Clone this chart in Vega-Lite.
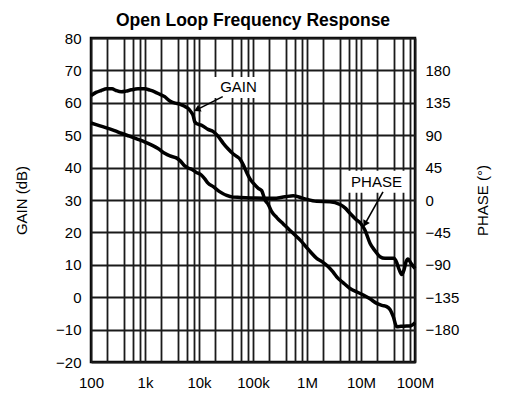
{
  "$schema": "https://vega.github.io/schema/vega-lite/v6.json",
  "autosize": "none",
  "padding": {"left": 91, "top": 38, "right": 90, "bottom": 38},
  "width": 324,
  "height": 324,
  "background": "white",
  "title": {"text": "Open Loop Frequency Response", "font": "Liberation Sans", "fontSize": 17.5, "fontWeight": "bold", "color": "black", "anchor": "middle", "offset": 2},
  "config": {
    "view": {"stroke": "black", "strokeWidth": 2.5},
    "axis": {"labelFont": "Liberation Sans", "labelFontSize": 15, "labelColor": "black", "titleFont": "Liberation Sans", "titleFontSize": 15, "titleFontWeight": "normal", "titleColor": "black", "ticks": false, "domain": false, "gridColor": "#1a1a1a", "gridWidth": 1.8, "gridOpacity": 1, "labelOverlap": false, "labelFlush": false}
  },
  "datasets": {
    "gain": [
      {"f": 100, "g": 62.2}, {"f": 124, "g": 63.2}, {"f": 155, "g": 63.8}, {"f": 195, "g": 64.3}, {"f": 245, "g": 64.3},
      {"f": 290, "g": 63.8}, {"f": 364, "g": 63.4}, {"f": 445, "g": 63.6}, {"f": 557, "g": 64.0}, {"f": 741, "g": 64.3},
      {"f": 987, "g": 64.3}, {"f": 1238, "g": 63.9}, {"f": 1512, "g": 63.4}, {"f": 1896, "g": 62.6}, {"f": 2317, "g": 61.9},
      {"f": 2667, "g": 61.0}, {"f": 3069, "g": 60.3}, {"f": 3671, "g": 59.9}, {"f": 4391, "g": 59.6}, {"f": 5275, "g": 59.0},
      {"f": 6256, "g": 58.3}, {"f": 7111, "g": 57.2}, {"f": 7743, "g": 56.2}, {"f": 8326, "g": 54.2}, {"f": 9183, "g": 53.5},
      {"f": 11030, "g": 53.1}, {"f": 14680, "g": 51.8}, {"f": 18400, "g": 51.1}, {"f": 22480, "g": 49.7}, {"f": 28180, "g": 47.5},
      {"f": 34430, "g": 45.8}, {"f": 43170, "g": 44.2}, {"f": 50540, "g": 43.4}, {"f": 57430, "g": 42.6}, {"f": 65270, "g": 41.0},
      {"f": 76430, "g": 38.5}, {"f": 87980, "g": 36.5}, {"f": 101300, "g": 35.2}, {"f": 125300, "g": 33.6}, {"f": 144900, "g": 32.9},
      {"f": 166800, "g": 30.0}, {"f": 192000, "g": 28.6}, {"f": 222000, "g": 26.4}, {"f": 278200, "g": 24.5}, {"f": 364000, "g": 22.6},
      {"f": 484500, "g": 20.6}, {"f": 625700, "g": 18.9}, {"f": 742000, "g": 17.7}, {"f": 987300, "g": 15.3}, {"f": 1186000, "g": 13.8},
      {"f": 1512000, "g": 12.0}, {"f": 1896000, "g": 11.0}, {"f": 2480000, "g": 9.4}, {"f": 3030000, "g": 7.8}, {"f": 3548000, "g": 6.3},
      {"f": 4642000, "g": 4.5}, {"f": 6257000, "g": 2.7}, {"f": 8433000, "g": 1.6}, {"f": 11030000, "g": 0.7}, {"f": 14680000, "g": -0.5},
      {"f": 19530000, "g": -1.9}, {"f": 24480000, "g": -2.5}, {"f": 29920000, "g": -2.9}, {"f": 34430000, "g": -3.8}, {"f": 39630000, "g": -6.0},
      {"f": 45830000, "g": -9.1}, {"f": 55060000, "g": -9.0}, {"f": 70200000, "g": -8.9}, {"f": 84330000, "g": -8.8}, {"f": 100000000, "g": -7.9}
    ],
    "phase": [
      {"f": 100, "p": 107}, {"f": 147, "p": 103}, {"f": 206, "p": 99.5}, {"f": 272, "p": 96.5}, {"f": 364, "p": 92.7},
      {"f": 516, "p": 88.6}, {"f": 741, "p": 84.2}, {"f": 1000, "p": 80.5}, {"f": 1308, "p": 76.5}, {"f": 1741, "p": 71.6},
      {"f": 2317, "p": 64.8}, {"f": 2904, "p": 61.2}, {"f": 3798, "p": 58.5}, {"f": 4544, "p": 54}, {"f": 5436, "p": 47.3},
      {"f": 6256, "p": 44.5}, {"f": 7200, "p": 42.8}, {"f": 8798, "p": 38.7}, {"f": 11030, "p": 34.7}, {"f": 12920, "p": 29},
      {"f": 14680, "p": 23.4}, {"f": 18400, "p": 18.5}, {"f": 24480, "p": 11.3}, {"f": 32590, "p": 6.3}, {"f": 42640, "p": 4},
      {"f": 57430, "p": 3.6}, {"f": 108900, "p": 2.7}, {"f": 237600, "p": 2.3}, {"f": 391400, "p": 4.5}, {"f": 557600, "p": 5.9},
      {"f": 854100, "p": 2.3}, {"f": 1512000, "p": -1.8}, {"f": 2667000, "p": -2.3}, {"f": 4084000, "p": -6.3}, {"f": 5054000, "p": -11},
      {"f": 6257000, "p": -18.5}, {"f": 8079000, "p": -27}, {"f": 10000000, "p": -33}, {"f": 11860000, "p": -42}, {"f": 14680000, "p": -60},
      {"f": 18170000, "p": -70.6}, {"f": 22480000, "p": -78.8}, {"f": 27820000, "p": -81}, {"f": 34430000, "p": -81}, {"f": 40840000, "p": -81},
      {"f": 46420000, "p": -88}, {"f": 50540000, "p": -96}, {"f": 56720000, "p": -103.5}, {"f": 62570000, "p": -97}, {"f": 68130000, "p": -86},
      {"f": 74200000, "p": -82}, {"f": 84330000, "p": -88}, {"f": 100000000, "p": -95}
    ],
    "notes": [
      {"label": "GAIN", "tx": 53900, "ty": 64.9, "bx1": 17400, "bx2": 166800, "by1": 61.5, "by2": 68.0, "ax1": 27480, "ay1": 61.9, "ax2": 9183, "ay2": 57.9},
      {"label": "PHASE", "tx": 19360000, "ty": 35.65, "bx1": 5505000, "bx2": 68130000, "by1": 32.2, "by2": 39.0, "ax1": 25550000, "ay1": 32.5, "ax2": 11860000, "ay2": 22.6}
    ]
  },
  "layer": [
    {
      "data": {"name": "gain"},
      "mark": {"type": "line", "color": "black", "strokeWidth": 3.5, "interpolate": "monotone"},
      "encoding": {
        "x": {"field": "f", "type": "quantitative", "scale": {"type": "log", "domain": [100, 100000000], "nice": false},
          "axis": {"values": [100, 200, 400, 600, 800, 1000, 2000, 4000, 6000, 8000, 10000, 20000, 40000, 60000, 80000, 100000, 200000, 400000, 600000, 800000, 1000000, 2000000, 4000000, 6000000, 8000000, 10000000, 20000000, 40000000, 60000000, 80000000, 100000000],
            "labelExpr": "datum.value==100?'100':datum.value==1000?'1k':datum.value==10000?'10k':datum.value==100000?'100k':datum.value==1000000?'1M':datum.value==10000000?'10M':datum.value==100000000?'100M':''",
            "labelPadding": 13, "labelOverlap": false, "title": null, "grid": true}},
        "y": {"field": "g", "type": "quantitative", "scale": {"domain": [-20, 80], "nice": false},
          "axis": {"values": [-20, -10, 0, 10, 20, 30, 40, 50, 60, 70, 80], "labelPadding": 10, "labelOverlap": false, "title": "GAIN (dB)", "titlePadding": 26, "grid": true}}
      }
    },
    {
      "data": {"name": "phase"},
      "mark": {"type": "line", "color": "black", "strokeWidth": 3.5, "interpolate": "monotone"},
      "encoding": {
        "x": {"field": "f", "type": "quantitative", "scale": {"type": "log", "domain": [100, 100000000], "nice": false}, "axis": null},
        "y": {"field": "p", "type": "quantitative", "scale": {"domain": [-225, 225], "nice": false},
          "axis": {"orient": "right", "values": [-180, -135, -90, -45, 0, 45, 90, 135, 180], "labelPadding": 10, "grid": false, "title": "PHASE (°)", "titleAngle": 270, "titlePadding": 32}}
      }
    },
    {
      "data": {"name": "notes"},
      "mark": {"type": "rect", "fill": "white"},
      "encoding": {
        "x": {"field": "bx1", "type": "quantitative", "scale": {"type": "log", "domain": [100, 100000000], "nice": false}, "axis": null},
        "x2": {"field": "bx2"},
        "y": {"field": "by1", "type": "quantitative", "scale": {"domain": [-20, 80], "nice": false}, "axis": null},
        "y2": {"field": "by2"}
      }
    },
    {
      "data": {"name": "notes"},
      "mark": {"type": "text", "font": "Liberation Sans", "fontSize": 15, "color": "black", "align": "center", "baseline": "middle"},
      "encoding": {
        "x": {"field": "tx", "type": "quantitative", "scale": {"type": "log", "domain": [100, 100000000], "nice": false}, "axis": null},
        "y": {"field": "ty", "type": "quantitative", "scale": {"domain": [-20, 80], "nice": false}, "axis": null},
        "text": {"field": "label"}
      }
    },
    {
      "data": {"name": "notes"},
      "mark": {"type": "rule", "color": "black", "strokeWidth": 1.6},
      "encoding": {
        "x": {"field": "ax1", "type": "quantitative", "scale": {"type": "log", "domain": [100, 100000000], "nice": false}, "axis": null},
        "x2": {"field": "ax2"},
        "y": {"field": "ay1", "type": "quantitative", "scale": {"domain": [-20, 80], "nice": false}, "axis": null},
        "y2": {"field": "ay2"}
      }
    },
    {
      "data": {"name": "notes"},
      "transform": [{"filter": "datum.label=='GAIN'"}],
      "mark": {"type": "point", "shape": "triangle-up", "filled": true, "color": "black", "size": 55, "opacity": 1, "angle": 243},
      "encoding": {
        "x": {"field": "ax2", "type": "quantitative", "scale": {"type": "log", "domain": [100, 100000000], "nice": false}, "axis": null},
        "y": {"field": "ay2", "type": "quantitative", "scale": {"domain": [-20, 80], "nice": false}, "axis": null}
      }
    },
    {
      "data": {"name": "notes"},
      "transform": [{"filter": "datum.label=='PHASE'"}],
      "mark": {"type": "point", "shape": "triangle-up", "filled": true, "color": "black", "size": 55, "opacity": 1, "angle": 209},
      "encoding": {
        "x": {"field": "ax2", "type": "quantitative", "scale": {"type": "log", "domain": [100, 100000000], "nice": false}, "axis": null},
        "y": {"field": "ay2", "type": "quantitative", "scale": {"domain": [-20, 80], "nice": false}, "axis": null}
      }
    }
  ],
  "resolve": {"scale": {"x": "independent", "y": "independent"}}
}
